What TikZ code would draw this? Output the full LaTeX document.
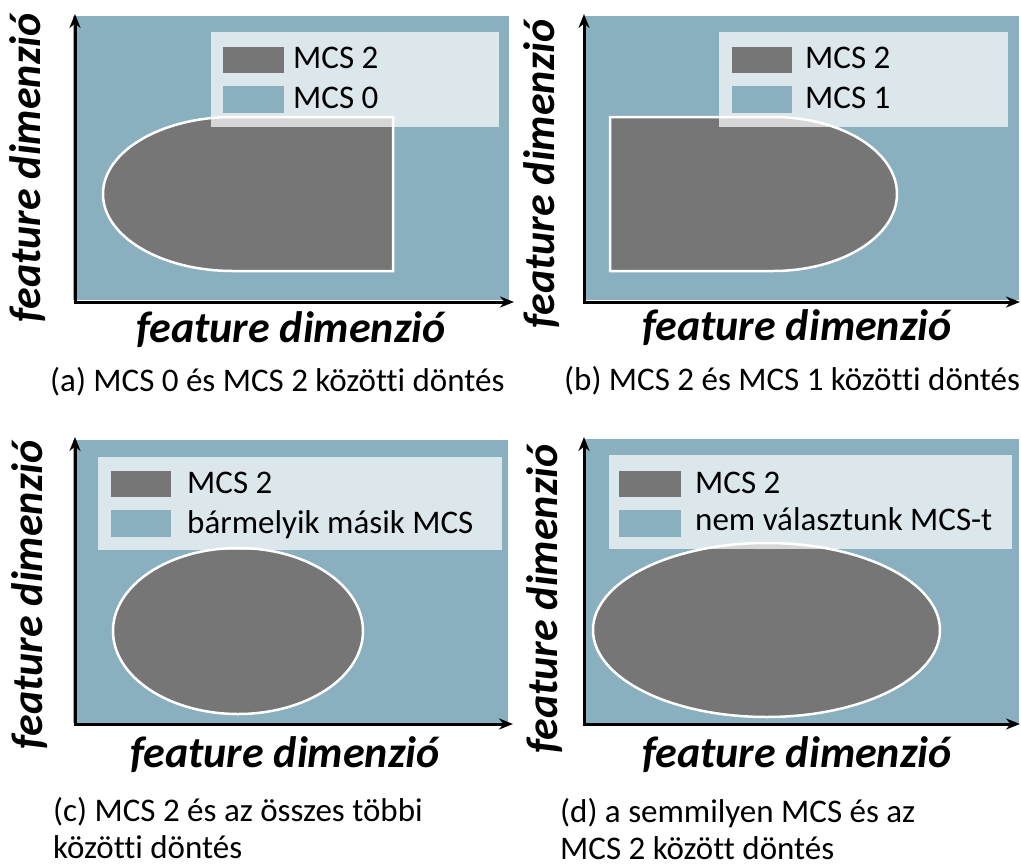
\documentclass[tikz,border=0pt]{standalone}
\usepackage{fontspec}
\setmainfont{Carlito}[Ligatures=NoCommon]
\usetikzlibrary{arrows.meta}
\definecolor{bgblue}{RGB}{138,176,191}
\definecolor{mcsgray}{RGB}{118,118,118}
\tikzset{
  panelbg/.style={fill=bgblue, draw=none},
  region/.style={fill=mcsgray, draw=white, line width=2.5pt},
  legendbox/.style={fill=white, fill opacity=0.7, draw=none},
  swdark/.style={fill=mcsgray, draw=none},
  swlight/.style={fill=bgblue, draw=none},
  legtext/.style={anchor=base west, inner sep=0pt, font=\fontsize{33}{38}\selectfont},
  captext/.style={anchor=base west, inner sep=0pt, font=\fontsize{33}{38}\selectfont},
  axlabel/.style={anchor=base, inner sep=0pt, font=\fontsize{44}{48}\selectfont\bfseries\itshape},
  axis/.style={line width=3pt, -{Stealth[length=14pt,width=11pt]}},
}
\begin{document}
\begin{tikzpicture}[x=1pt, y=-1pt]
\useasboundingbox (0,0) rectangle (1021,868);

% ---------- panel (a) ----------
\fill[panelbg] (73,16) rectangle (509,300);
\path[region] (393,117) -- (233,117) arc[start angle=270, end angle=90, x radius=130, y radius=77] -- (393,271) -- cycle;
\fill[legendbox] (211,32) rectangle (499,127);
\fill[swdark] (223,47) rectangle (284,73);
\fill[swlight] (223,86) rectangle (284,113);
\node[legtext] (la1) at (293,68) {MCS 2};
\node[legtext] (la2) at (293,108) {MCS 0};
\coordinate (oa) at (75,302);
\coordinate (ya) at (75,14);
\coordinate (xa) at (514,302);
\draw[axis] ([xshift=-1.5pt]oa) -- (xa);
\draw[axis] ([yshift=1.5pt]oa) -- (ya);
\node[axlabel] (xla) at (291,342) {feature dimenzió};
\node[axlabel, rotate=90] (yla) at (41,168) {feature dimenzió};
\node[captext] (ca) at (50,391) {(a) MCS 0 és MCS 2 közötti döntés};

% ---------- panel (b) ----------
\fill[panelbg] (583,16) rectangle (1019,300);
\path[region] (610,117) -- (773,117) arc[start angle=-90, end angle=90, x radius=124, y radius=77] -- (610,271) -- cycle;
\fill[legendbox] (719,32) rectangle (1008,127);
\fill[swdark] (732,47) rectangle (792,73);
\fill[swlight] (732,86) rectangle (792,113);
\node[legtext] (lb1) at (805,68) {MCS 2};
\node[legtext] (lb2) at (805,108) {MCS 1};
\coordinate (ob) at (584,302);
\coordinate (yb) at (584,14);
\coordinate (xb) at (1020,302);
\draw[axis] ([xshift=-1.5pt]ob) -- (xb);
\draw[axis] ([yshift=1.5pt]ob) -- (yb);
\node[axlabel] (xlb) at (797,340) {feature dimenzió};
\node[axlabel, rotate=90] (ylb) at (554,174) {feature dimenzió};
\node[captext] (cb) at (564,390) {(b) MCS 2 és MCS 1 közötti döntés};

% ---------- panel (c) ----------
\fill[panelbg] (73,440) rectangle (508,723);
\path[region] (238,631) ellipse[x radius=125, y radius=83];
\fill[legendbox] (98,457) rectangle (502,550);
\fill[swdark] (111,471) rectangle (171,497);
\fill[swlight] (111,510) rectangle (171,537);
\node[legtext] (lc1) at (187,493) {MCS 2};
\node[legtext] (lc2) at (187,533) {bármelyik másik MCS};
\coordinate (oc) at (75,724);
\coordinate (yc) at (75,437);
\coordinate (xc) at (513,724);
\draw[axis] ([xshift=-1.5pt]oc) -- (xc);
\draw[axis] ([yshift=1.5pt]oc) -- (yc);
\node[axlabel] (xlc) at (285,767) {feature dimenzió};
\node[axlabel, rotate=90] (ylc) at (42,595) {feature dimenzió};
\node[captext] (cc1) at (53,821) {(c) MCS 2 és az összes többi};
\node[captext] (cc2) at (53,858) {közötti döntés};

% ---------- panel (d) ----------
\fill[panelbg] (583,439) rectangle (1019,723);
\path[region] (766.5,630) ellipse[x radius=173.5, y radius=87];
\fill[legendbox] (609,455) rectangle (1012,549);
\fill[swdark] (619,471) rectangle (681,497);
\fill[swlight] (619,510) rectangle (681,537);
\node[legtext] (ld1) at (695,493) {MCS 2};
\node[legtext] (ld2) at (695,530) {nem választunk MCS-t};
\coordinate (od) at (584,724);
\coordinate (yd) at (584,437);
\coordinate (xd) at (1020,724);
\draw[axis] ([xshift=-1.5pt]od) -- (xd);
\draw[axis] ([yshift=1.5pt]od) -- (yd);
\node[axlabel] (xld) at (797,767) {feature dimenzió};
\node[axlabel, rotate=90] (yld) at (557,599) {feature dimenzió};
\node[captext] (cd1) at (560,822) {(d) a semmilyen MCS és az};
\node[captext] (cd2) at (560,859) {MCS 2 között döntés};
\end{tikzpicture}
\end{document}
